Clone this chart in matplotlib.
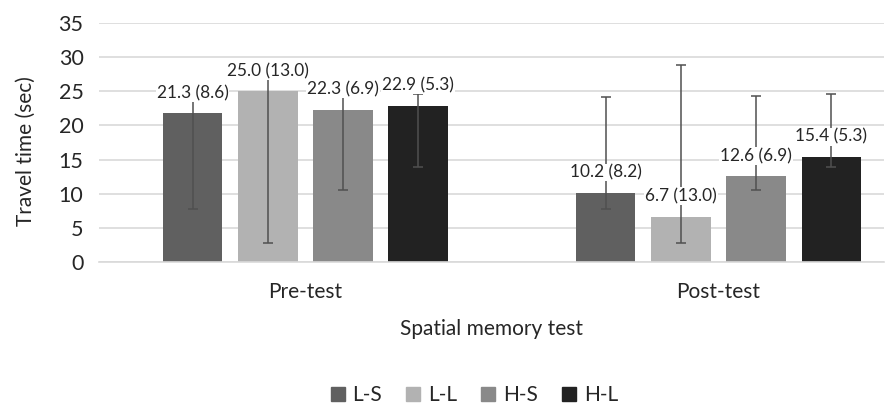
import numpy as np
import matplotlib
matplotlib.use("Agg")
import matplotlib.pyplot as plt
from matplotlib.lines import Line2D

# Data
groups = ["Pre-test", "Post-test"]
series = ["L-S", "L-L", "H-S", "H-L"]
colors = ["#606060", "#b2b2b2", "#898989", "#222222"]

# bar heights as drawn (per series: pre, post)
bar_ls = [21.8, 10.2]
bar_ll = [25.0, 6.7]
bar_hs = [22.3, 12.6]
bar_hl = [22.9, 15.4]

# printed labels: mean (sd)
mean_ls = [21.3, 10.2]
mean_ll = [25.0, 6.7]
mean_hs = [22.3, 12.6]
mean_hl = [22.9, 15.4]
sd_ls = [8.6, 8.2]
sd_ll = [13.0, 13.0]
sd_hs = [6.9, 6.9]
sd_hl = [5.3, 5.3]

# error bar ends (same range drawn in both groups)
err_low = [7.8, 2.9, 10.55, 13.9]
err_high = [24.15, 28.8, 24.35, 24.55]

bars = [bar_ls, bar_ll, bar_hs, bar_hl]
means = [mean_ls, mean_ll, mean_hs, mean_hl]
sds = [sd_ls, sd_ll, sd_hs, sd_hl]

plt.rcParams['font.family'] = ['Lato', 'DejaVu Sans']
txt_color = '#262626'

fig = plt.figure(figsize=(8.9, 4.05), dpi=100)
ax = fig.add_axes([0.111, 0.352, 0.882, 0.592])

x = np.arange(len(groups))
width = 0.144
step = 0.182

for i, name in enumerate(series):
    xs = x + (i - 1.5) * step
    vals = np.array(bars[i])
    ax.bar(xs, vals, width, color=colors[i], label=name, zorder=2)
    lo = vals - err_low[i]
    hi = err_high[i] - vals
    ax.errorbar(xs, vals, yerr=[lo, hi], fmt='none', ecolor='#505050',
                elinewidth=1.1, capsize=3.3, capthick=1.1, zorder=3)
    for j in range(len(groups)):
        txt = f"{means[i][j]:.1f} ({sds[i][j]:.1f})"
        ax.annotate(txt, (xs[j], vals[j]), xytext=(0, 14.5), textcoords='offset points',
                    ha='center', va='center', fontsize=12.4, color=txt_color, zorder=4,
                    bbox=dict(boxstyle='square,pad=0.05', facecolor='white', edgecolor='none'))

ax.set_ylim(0, 35)
ax.set_yticks(range(0, 36, 5))
ax.set_xlim(-0.5, 1.4)
ax.set_xticks(x)
ax.set_xticklabels(groups)
ax.yaxis.grid(True, color='#d9d9d9', linewidth=1.2, zorder=0)
ax.set_axisbelow(True)
for s in ['top', 'right', 'left']:
    ax.spines[s].set_visible(False)
ax.spines['bottom'].set_color('#d9d9d9')
ax.spines['bottom'].set_linewidth(1.2)
ax.tick_params(axis='y', length=0, labelsize=15.5, pad=11, labelcolor=txt_color)
ax.tick_params(axis='x', length=0, labelsize=15, pad=14, labelcolor=txt_color)

ax.set_ylabel("Travel time (sec)", fontsize=15, color=txt_color)
ax.yaxis.set_label_coords(-0.08, 0.465)
ax.set_xlabel("Spatial memory test", fontsize=15, color=txt_color, labelpad=12)

handles = [Line2D([0], [0], marker='s', linestyle='none', markersize=9.5,
                  markerfacecolor=c, markeredgecolor=c) for c in colors]
fig.legend(handles, series, loc='center', bbox_to_anchor=(0.53, 0.025), ncol=4,
           frameon=False, fontsize=15, handletextpad=0.1, columnspacing=0.9,
           handlelength=1.2, labelcolor=txt_color, borderaxespad=0, borderpad=0)

fig.savefig("out.png", dpi=100)
